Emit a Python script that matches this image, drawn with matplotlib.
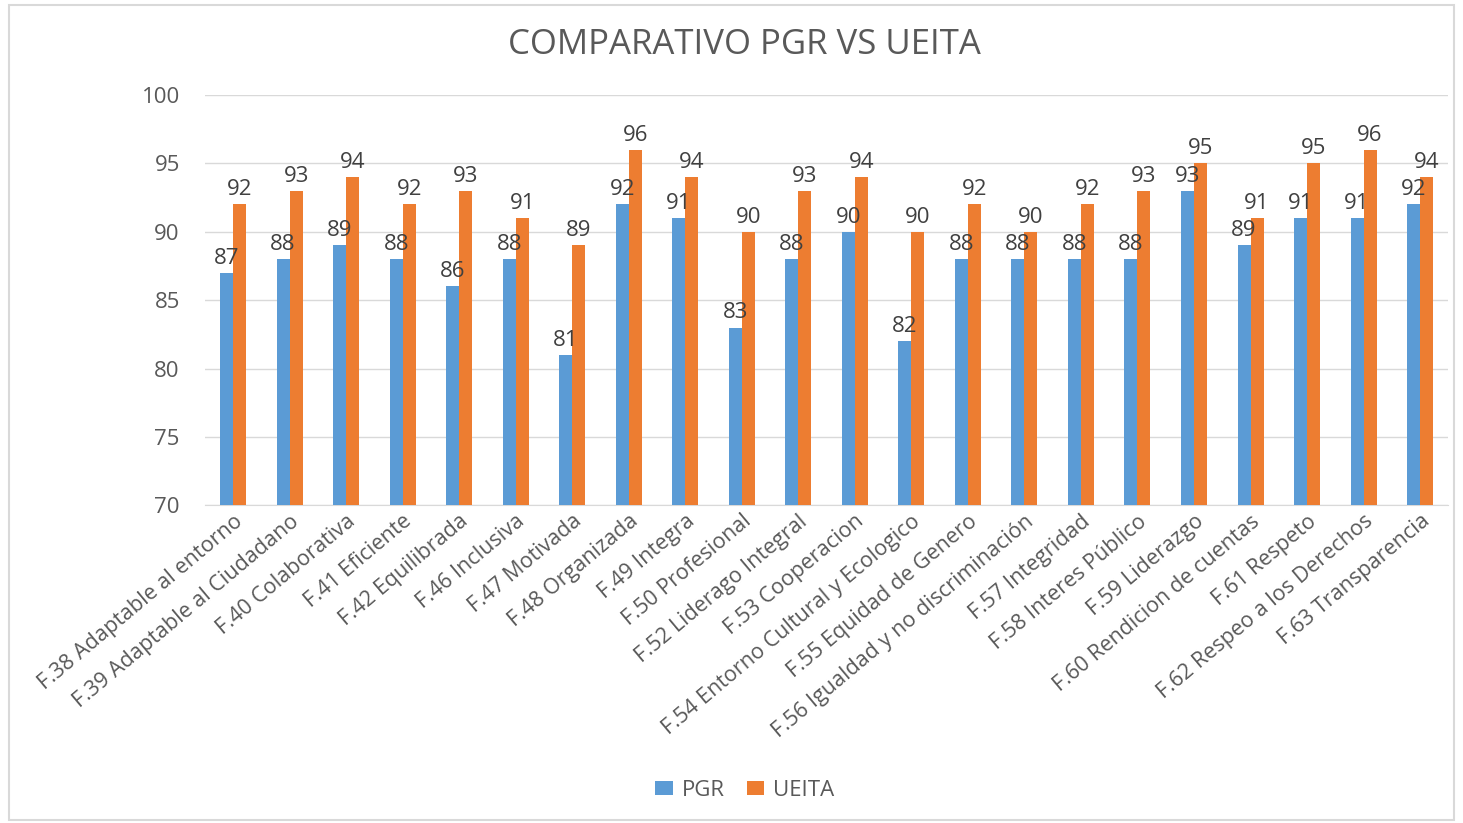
# Comparativo PGR vs UEITA - grouped bar chart
import numpy as np
import matplotlib.pyplot as plt
from matplotlib.patches import Rectangle

plt.rcParams['font.family'] = ['Open Sans', 'DejaVu Sans']

categorias = ['F.38 Adaptable al entorno', 'F.39 Adaptable al Ciudadano', 'F.40 Colaborativa',
              'F.41 Eficiente', 'F.42 Equilibrada', 'F.46 Inclusiva', 'F.47 Motivada',
              'F.48 Organizada', 'F.49 Integra', 'F.50 Profesional', 'F.52 Liderago Integral',
              'F.53 Cooperacion', 'F.54 Entorno Cultural y Ecologico', 'F.55 Equidad de Genero',
              'F.56 Igualdad y no discriminación', 'F.57 Integridad', 'F.58 Interes Público',
              'F.59 Liderazgo', 'F.60 Rendicion de cuentas', 'F.61 Respeto',
              'F.62 Respeo a los Derechos', 'F.63 Transparencia']
pgr = [87, 88, 89, 88, 86, 88, 81, 92, 91, 83, 88, 90, 82, 88, 88, 88, 88, 93, 89, 91, 91, 92]
ueita = [92, 93, 94, 92, 93, 91, 89, 96, 94, 90, 93, 94, 90, 92, 90, 92, 93, 95, 91, 95, 96, 94]

azul = '#5B9BD5'
naranja = '#ED7D31'
gris = '#595959'

fig = plt.figure(figsize=(14.63, 8.23), dpi=100)
ax = fig.add_axes([0.140, 0.386, 0.850, 0.4986])

x = np.arange(len(categorias))
w = 0.23
b1 = ax.bar(x - w / 2, pgr, w, color=azul, label='PGR', zorder=3)
b2 = ax.bar(x + w / 2, ueita, w, color=naranja, label='UEITA', zorder=3)

# Etiquetas de datos
ax.bar_label(b1, padding=3, fontsize=16, color='#404040')
ax.bar_label(b2, padding=3, fontsize=16, color='#404040')

ax.set_ylim(70, 100)
ax.set_xlim(-0.5, len(categorias) - 0.5)
ax.set_yticks([70, 75, 80, 85, 90, 95, 100])
ax.yaxis.grid(True, color='#D9D9D9', lw=1, zorder=0)
ax.tick_params(axis='y', length=0, labelsize=16, labelcolor=gris, pad=18)
ax.tick_params(axis='x', length=0, labelsize=15.5, labelcolor=gris, pad=4)
ax.set_xticks(x)
ax.set_xticklabels(categorias, rotation=40, ha='right', rotation_mode='anchor')
for s in ['top', 'right', 'left']:
    ax.spines[s].set_visible(False)
ax.spines['bottom'].set_color('#D9D9D9')

fig.text(0.509, 0.945, 'COMPARATIVO PGR VS UEITA', ha='center', va='center',
         fontsize=25, color=gris)

fig.legend(loc='center', bbox_to_anchor=(0.509, 0.04), ncol=2, frameon=False,
           fontsize=16, labelcolor=gris, handlelength=0.8, handleheight=0.6,
           columnspacing=1.0, handletextpad=0.4)

# Marco de la imagen
fig.patches.append(Rectangle((0.006, 0.004), 0.988, 0.99, transform=fig.transFigure,
                             fill=False, edgecolor='#D9D9D9', lw=1.5))

fig.savefig('out.png', dpi=100)
